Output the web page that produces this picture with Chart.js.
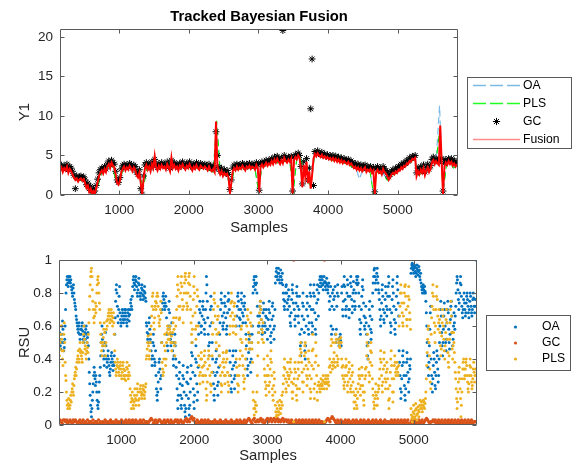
<!DOCTYPE html>
<html><head><meta charset="utf-8">
<script src="https://cdn.jsdelivr.net/npm/chart.js@4.4.1/dist/chart.umd.min.js"></script>
<style>
html,body{margin:0;padding:0;background:#fff;}
#wrap{position:relative;width:573px;height:467px;overflow:hidden;}
#c1{position:absolute;left:0;top:0;}
#c2{position:absolute;left:0;top:240px;}
</style></head><body>
<div id="wrap"><canvas id="c1" width="573" height="240"></canvas><canvas id="c2" width="573" height="227"></canvas></div>
<script>
// ---------- data ----------
const sampleMin = 150, sampleMax = 5865;
const xTicks = [1000, 2000, 3000, 4000, 5000];
const yTicksTop = [0, 5, 10, 15, 20];
const yTicksBottom = [0, 0.2, 0.4, 0.6, 0.8, 1];

// top panel (Y1), samples 150..5850 every 20
const topStart = 150, topStep = 20;
const fusionTop = [
3.2,3.5,2.9,3.4,3.1,3.6,2.8,3.3,3.0,2.6,2.2,1.9,2.1,1.7,2.0,
2.1,1.8,2.0,1.5,0.9,1.2,0.4,0.8,0.1,0.5,0.2,0.9,1.6,2.4,2.8,
3.1,2.7,3.3,2.9,3.6,3.9,3.4,4.1,3.7,3.5,2.6,1.5,1.3,1.8,2.9,
3.3,3.6,3.1,3.5,3.2,3.7,3.4,3.0,3.5,3.2,2.5,2.2,2.8,1.5,0.1,
2.0,3.4,3.8,3.2,3.6,3.0,3.9,3.4,4.9,3.5,3.1,3.7,3.3,3.8,3.4,
3.6,3.2,3.9,3.5,3.0,4.7,3.4,3.8,3.3,3.6,3.1,3.7,3.4,3.9,3.5,
3.2,3.7,3.4,3.9,3.5,3.1,3.6,3.3,3.8,3.4,3.2,3.7,3.5,3.3,3.6,
3.4,3.1,3.6,3.2,3.0,3.3,2.9,9.3,3.6,3.1,2.6,3.0,2.4,2.8,2.5,
2.7,2.2,0.3,1.5,3.0,3.4,3.1,3.6,3.2,3.5,3.3,3.7,3.4,3.1,3.6,
3.4,3.7,3.3,3.6,3.5,3.2,3.8,3.4,0.3,3.6,3.9,3.5,3.8,4.1,3.7,
4.0,3.8,4.3,3.9,4.5,4.1,4.6,4.2,3.9,4.4,4.0,4.7,4.3,4.1,4.5,
4.2,4.6,0.2,4.4,4.8,4.5,5.0,4.7,3.2,1.0,3.8,2.4,4.2,1.5,3.0,
0.8,2.5,4.6,5.2,4.9,5.3,5.0,4.8,5.1,4.7,4.9,4.6,4.8,4.5,4.7,
4.4,4.7,4.3,4.6,4.2,4.5,4.1,4.4,4.0,4.3,4.1,3.9,4.2,3.8,4.0,
3.7,3.4,3.6,3.2,3.5,3.1,3.4,3.0,3.3,3.5,2.9,3.2,3.0,3.3,2.8,
3.1,0.1,2.9,3.2,2.8,3.0,2.6,3.3,2.9,2.7,2.4,1.9,2.2,2.6,2.8,
2.6,3.0,2.8,3.2,3.1,3.5,3.3,3.7,3.6,4.0,3.9,4.3,4.2,4.6,4.5,
4.7,2.4,3.0,2.6,3.2,2.8,3.4,2.5,3.1,3.5,2.9,3.3,4.1,4.4,3.9,
4.3,4.0,3.8,8.8,4.2,0.1,3.6,4.1,3.8,4.3,3.9,4.2,3.7,4.0,3.6,
3.9];
const gcTop = [
3.5,3.8,3.3,3.7,3.5,3.9,3.2,3.6,3.4,3.0,2.5,0.8,2.4,2.1,2.3,
2.4,2.2,2.3,1.9,1.3,1.5,0.8,1.1,0.3,0.8,0.5,1.2,2.0,2.8,3.2,
3.4,3.1,3.6,3.3,3.9,4.3,3.8,4.4,4.1,3.9,3.0,1.9,1.6,2.2,3.3,
3.7,3.9,3.5,3.8,3.6,4.0,3.8,3.4,3.8,3.6,2.9,2.6,3.2,0.8,0.1,
2.4,3.8,4.1,3.6,3.9,3.4,4.2,3.8,4.5,3.9,3.5,4.0,3.7,4.1,3.8,
3.9,3.6,4.2,3.8,3.4,4.4,3.8,4.1,3.7,3.9,3.5,4.0,3.8,4.2,3.8,
3.6,4.0,3.8,4.2,3.8,3.5,3.9,3.7,4.1,3.8,3.6,4.0,3.8,3.7,3.9,
3.7,3.5,3.9,3.6,3.4,3.7,3.3,8.0,5.0,3.5,3.0,3.4,2.8,3.2,2.9,
3.1,2.6,0.7,1.9,3.4,3.8,3.5,3.9,3.6,3.8,3.7,4.0,3.8,3.5,3.9,
3.8,4.0,3.7,3.9,3.8,3.6,4.1,3.8,0.6,4.0,4.2,3.9,4.1,4.4,4.1,
4.4,4.2,4.6,4.3,4.8,4.5,4.9,4.6,4.3,4.7,20.8,5.0,4.7,4.5,4.8,
4.6,4.9,0.5,4.8,5.1,4.9,5.3,5.0,3.6,1.4,4.2,2.8,4.6,1.9,3.4,
10.9,17.2,1.2,5.5,5.2,5.6,5.3,5.1,5.4,5.0,5.2,4.9,5.1,4.8,5.0,
4.8,5.0,4.7,4.9,4.6,4.8,4.5,4.7,4.4,4.6,4.4,4.3,4.5,4.2,4.3,
4.1,3.8,4.0,3.6,3.9,3.5,3.8,3.4,3.7,3.8,3.3,3.6,3.4,3.6,3.2,
3.5,0.4,3.3,3.6,3.2,3.4,3.0,3.6,3.3,3.1,2.8,2.3,2.6,3.0,3.2,
3.0,3.4,3.2,3.6,3.5,3.9,3.7,4.1,4.0,4.4,4.3,4.7,4.6,4.9,4.8,
5.0,2.8,3.4,3.0,3.6,3.2,3.8,2.9,3.5,3.9,3.3,3.7,4.5,4.8,4.3,
4.6,4.4,4.2,4.5,4.6,0.5,4.0,4.5,4.2,4.6,4.3,4.6,4.1,4.4,4.0,
4.2];
// OA / PLS estimates in the top panel, samples 150..5850 every 50
const estStart = 150, estStep = 50;
const oaTop = [
3.3,3.4,3.1,3.2,2.4,1.9, 2.0,1.6,1.0,0.6,0.3,1.4, 3.0,3.2,3.7,3.8,2.0,1.5,
3.2,3.4,3.5,3.3,3.4,2.4, 1.2,3.6,3.5,4.6,3.5,3.4, 3.5,4.5,3.6,3.4,3.5,3.6,
3.4,3.6,3.3,3.5,3.4,3.5, 3.3,3.2,3.0,8.8,3.0,2.6, 2.6,0.8,3.3,3.3,3.4,3.5,
3.5,3.5,3.4,0.6,3.7,3.9, 4.0,4.2,4.3,4.1,4.3,4.4, 4.3,0.5,4.7,4.9,3.0,2.2,
1.0,4.8,5.1,5.0,4.8,4.7, 4.5,4.4,4.3,4.2,4.1,3.9, 3.6,3.4,2.0,3.3,3.3,3.1,
0.3,3.0,2.9,2.6,2.0,2.6, 2.7,3.0,3.4,3.7,4.0,4.4, 4.6,2.6,2.9,3.0,3.2,4.1,
4.1,11.3,0.2,4.0,4.1,3.5, 3.8];
const plsTop = [
3.2,3.3,3.0,3.1,2.3,1.8, 1.9,1.5,0.9,0.5,0.2,1.3, 2.9,3.1,3.6,3.7,1.9,1.4,
3.1,3.3,3.4,3.2,3.3,2.3, 1.1,3.5,3.4,4.5,3.4,3.3, 3.4,4.4,3.5,3.3,3.4,3.5,
3.3,3.5,3.2,3.4,3.3,3.4, 3.2,3.1,2.9,9.4,2.9,2.5, 2.5,0.7,3.2,3.2,3.3,3.4,
3.4,3.4,3.3,0.5,3.6,3.8, 3.9,4.1,4.2,4.0,4.2,4.3, 4.2,0.4,4.6,4.8,2.9,2.1,
0.9,4.7,5.0,4.9,4.7,4.6, 4.4,4.3,4.2,4.1,4.0,3.8, 3.5,3.3,3.1,3.2,3.2,3.0,
0.2,2.9,2.8,2.5,1.9,2.5, 2.6,2.9,3.3,3.6,3.9,4.3, 4.5,2.5,2.8,2.9,3.1,4.0,
4.0,8.2,0.3,3.9,4.0,3.4, 3.7];

// bottom panel (RSU) OA / PLS, samples 150..5850 every 6
const rsuStart = 150, rsuStep = 6;
const oaRsu = [
.6,.56,.52,.48,.46,.5,.55,.6,.63,.58,.5,.45,.47,.52,.6,.7,.8,.85,.88,.9,.86,.84,.88,.9,.87,
.9,.86,.88,.84,.82,.8,.78,.83,.85,.8,.76,.74,.72,.7,.66,.64,.62,.6,.58,.56,.6,.62,.55,.52,.58,
.55,.58,.6,.62,.57,.52,.5,.54,.6,.56,.52,.58,.6,.55,.5,.53,.56,.48,.4,.32,.25,.18,.12,.08,.05,
.1,.15,.2,.25,.3,.35,.32,.28,.24,.3,.26,.2,.15,.12,.1,.14,.2,.26,.3,.35,.42,.5,.55,.6,.52,
.48,.45,.4,.36,.42,.5,.56,.48,.4,.35,.38,.42,.45,.4,.36,.32,.3,.34,.38,.42,.44,.4,.36,.33,.38,
.36,.42,.55,.65,.75,.82,.85,.8,.72,.66,.62,.7,.78,.84,.68,.64,.6,.62,.66,.7,.68,.64,.62,.66,.7,
.64,.68,.7,.66,.62,.6,.64,.68,.7,.66,.63,.67,.7,.74,.76,.72,.7,.78,.84,.88,.9,.86,.82,.85,.88,
.9,.87,.84,.8,.78,.82,.86,.89,.85,.8,.78,.76,.8,.83,.85,.82,.79,.76,.78,.81,.84,.8,.77,.75,.62,
.6,.56,.52,.5,.55,.62,.65,.58,.52,.5,.45,.4,.36,.42,.5,.55,.48,.4,.36,.38,.45,.3,.22,.18,.15,
.2,.26,.32,.38,.4,.34,.28,.22,.3,.5,.7,.74,.78,.8,.76,.72,.7,.74,.78,.72,.65,.55,.48,.45,.6,
.7,.75,.68,.6,.52,.48,.55,.62,.5,.45,.4,.36,.42,.5,.55,.48,.4,.35,.3,.22,.15,.1,.18,.28,.38,
.32,.25,.18,.12,.1,.16,.24,.3,.36,.28,.2,.12,.08,.05,.1,.18,.26,.32,.35,.25,.16,.1,.06,.12,.2,
.28,.36,.44,.5,.42,.32,.22,.14,.1,.18,.3,.4,.48,.38,.25,.15,.2,.35,.55,.62,.7,.75,.68,.6,.56,
.6,.66,.72,.75,.7,.64,.58,.55,.62,.7,.8,.9,.85,.75,.65,.55,.48,.42,.5,.6,.7,.78,.72,.62,.5,
.4,.32,.25,.18,.15,.22,.3,.38,.45,.4,.32,.24,.18,.26,.35,.42,.55,.62,.7,.76,.8,.74,.66,.6,.58,
.62,.68,.74,.78,.72,.65,.58,.55,.6,.68,.75,.8,.76,.7,.45,.38,.3,.22,.2,.26,.34,.42,.45,.36,.28,
.22,.3,.38,.45,.6,.66,.72,.78,.8,.75,.7,.65,.6,.64,.7,.76,.8,.74,.68,.62,.66,.72,.78,.74,.7,
.62,.55,.48,.4,.34,.3,.36,.44,.52,.55,.46,.38,.32,.4,.5,.55,.6,.8,.84,.88,.9,.86,.82,.85,.9,
.86,.8,.72,.66,.6,.56,.6,.66,.72,.75,.7,.64,.58,.55,.6,.68,.74,.7,.62,.56,.6,.66,.7,.65,.58,
.52,.58,.64,.7,.75,.68,.6,.54,.5,.56,.64,.72,.74,.66,.58,.52,.6,.7,.86,.9,.93,.95,.9,.88,.92,
.95,.92,.88,.86,.9,.94,.9,.86,.88,.92,.85,.8,.76,.72,.7,.75,.8,.84,.85,.8,.74,.7,.76,.82,.78,
.72,.66,.62,.6,.68,.76,.82,.85,.8,.74,.01,.7,.64,.6,.66,.74,.8,.84,.78,.72,.66,.62,.7,.78,.55,
.48,.42,.5,.58,.66,.74,.8,.72,.64,.56,.45,.4,.48,.6,.7,.78,.74,.66,.58,.55,.62,.72,.8,.85,.78,
.7,.62,.56,.6,.7,.8,.85,.78,.68,.58,.55,.64,.74,.82,.85,.76,.66,.8,.84,.88,.9,.86,.84,.88,.9,
.88,.85,.82,.86,.9,.01,.87,.84,.82,.86,.89,.85,.82,.8,.84,.86,.75,.7,.78,.84,.6,.55,.72,.8,.58,
.82,.76,.7,.78,.84,.55,.5,.58,.72,.8,.85,.78,.52,.48,.5,.53,.55,.51,.48,.8,.84,.7,.66,.75,.85,
.9,.84,.76,.7,.66,.72,.8,.88,.85,.78,.7,.65,.7,.78,.86,.9,.84,.76,.68,.72,.8,.87,.82,.75,.7,
.72,.8,.86,.9,.88,.85,.9,.86,.8,.72,.64,.58,.55,.62,.7,.78,.84,.88,.82,.74,.66,.6,.58,.65,.72,
.62,.55,.48,.42,.4,.5,.6,.7,.75,.66,.58,.52,.56,.64,.72,.8,.86,.9,.94,.95,.9,.86,.82,.88,.92,
.95,.9,.86,.82,.8,.76,.7,.64,.6,.66,.74,.82,.85,.78,.7,.64,.62,.68,.76,.84,.8,.72,.66,.7,.78,
.84,.9,.86,.78,.7,.62,.56,.6,.68,.76,.84,.88,.8,.72,.64,.58,.55,.62,.7,.78,.86,.9,.82,.74,.66,
.45,.38,.3,.22,.16,.2,.28,.36,.42,.45,.38,.3,.24,.18,.15,.22,.3,.38,.44,.4,.32,.26,.2,.28,.36,
.34,.4,.92,.95,.97,.98,.96,.94,.92,.95,.97,.96,.93,.9,.92,.95,.97,.94,.91,.93,.96,.94,.9,.88,.92,
.86,.84,.82,.8,.83,.85,.82,.8,.84,.81,.8,.75,.68,.6,.5,.42,.35,.3,.38,.48,.58,.68,.72,.4,.3,
.25,.2,.28,.36,.44,.4,.32,.24,.22,.3,.38,.45,.42,.34,.26,.3,.4,.5,.6,.7,.75,.66,.56,.48,.42,
.5,.58,.66,.74,.7,.6,.5,.45,.52,.62,.7,.75,.68,.58,.5,.46,.55,.64,.72,.75,.66,.56,.48,.52,.6,
.68,.62,.58,.66,.72,.8,.86,.9,.88,.82,.76,.7,.74,.8,.86,.9,.85,.78,.72,.68,.65,.7,.76,.8,.74,
.7,.66,.68,.74,.78,.8,.76,.72,.68,.65,.7,.75,.8,.78,.72,.68,.66,.7,.76,.8,.77,.72,.68,.72,.76,
1];
const plsRsu = [
.38,.42,.46,.5,.55,.6,.52,.45,.4,.36,.45,.55,.62,.5,.38,.3,.27,.2,.15,.12,.1,.13,.16,.12,.1,
.12,.15,.18,.14,.2,.22,.25,.2,.18,.24,.28,.3,.32,.35,.3,.34,.38,.4,.42,.45,.4,.38,.46,.5,.44,
.45,.42,.4,.38,.44,.5,.55,.6,.52,.46,.48,.43,.4,.45,.5,.47,.44,.55,.62,.7,.78,.85,.9,.93,.95,
.9,.82,.75,.7,.65,.62,.66,.7,.74,.68,.72,.8,.85,.88,.9,.86,.8,.74,.7,.62,.55,.5,.45,.42,.48,
.5,.53,.58,.62,.56,.48,.42,.5,.58,.63,.6,.64,.66,.68,.7,.66,.62,.64,.68,.7,.66,.63,.6,.65,.68,
.62,.55,.45,.38,.34,.3,.32,.36,.4,.38,.35,.32,.3,.34,.36,.38,.34,.3,.28,.32,.36,.38,.34,.3,.28,
.33,.3,.27,.3,.35,.38,.34,.3,.28,.32,.36,.3,.22,.18,.14,.1,.16,.2,.15,.12,.1,.14,.18,.22,.16,
.12,.15,.18,.22,.25,.2,.15,.12,.16,.2,.22,.24,.2,.18,.16,.19,.22,.24,.21,.18,.16,.2,.23,.25,.4,
.42,.46,.5,.54,.48,.42,.4,.45,.5,.55,.6,.66,.72,.78,.8,.7,.62,.58,.65,.72,.75,.7,.74,.78,.8,
.78,.72,.66,.62,.6,.64,.7,.75,.68,.5,.38,.34,.3,.32,.4,.48,.55,.45,.36,.4,.5,.56,.6,.58,.52,
.55,.52,.58,.6,.56,.5,.54,.45,.5,.56,.62,.65,.58,.48,.42,.5,.6,.65,.7,.78,.85,.9,.82,.72,.64,
.65,.72,.8,.86,.9,.84,.76,.7,.62,.72,.8,.86,.9,.92,.88,.8,.74,.7,.72,.8,.86,.9,.92,.85,.78,
.7,.62,.55,.5,.58,.66,.76,.84,.9,.8,.68,.58,.52,.6,.72,.82,.78,.6,.42,.36,.3,.25,.32,.4,.44,
.4,.35,.3,.26,.3,.36,.42,.45,.38,.3,.22,.15,.18,.26,.34,.4,.45,.42,.36,.3,.25,.2,.24,.32,.42,
.55,.62,.7,.76,.8,.74,.66,.58,.5,.46,.55,.64,.72,.66,.56,.48,.42,.36,.3,.25,.2,.24,.32,.38,.44,
.4,.35,.3,.25,.3,.38,.44,.45,.4,.32,.26,.2,.24,.3,.55,.6,.66,.74,.8,.75,.68,.6,.56,.64,.72,
.74,.66,.6,.55,.4,.35,.3,.25,.2,.24,.3,.36,.4,.45,.52,.58,.6,.5,.42,.36,.3,.26,.22,.28,.34,
.4,.46,.52,.6,.66,.7,.64,.56,.5,.46,.54,.62,.68,.6,.5,.46,.38,.2,.15,.1,.06,.1,.14,.12,.08,
.12,.2,.3,.42,.5,.56,.62,.68,.72,.75,.7,.64,.58,.52,.56,.62,.5,.4,.34,.3,.26,.22,.18,.24,.3,
.42,.36,.3,.24,.2,.26,.34,.4,.45,.38,.3,.22,.18,.15,.24,.32,.28,.2,.12,.08,.05,.06,.1,.14,.08,
.06,.08,.12,.15,.1,.07,.1,.14,.18,.12,.2,.25,.3,.35,.4,.34,.28,.22,.2,.26,.32,.38,.3,.24,.28,
.3,.34,.38,.4,.32,.26,.2,.16,.2,.25,.02,.28,.34,.38,.32,.24,.18,.15,.22,.28,.34,.38,.3,.22,.42,
.46,.5,.44,.38,.32,.26,.2,.26,.34,.42,.48,.5,.44,.36,.3,.24,.28,.34,.4,.45,.38,.3,.22,.16,.2,
.28,.36,.45,.55,.46,.34,.22,.16,.25,.38,.5,.42,.3,.2,.15,.24,.36,.26,.24,.22,.2,.24,.28,.25,.22,
.24,.27,.3,.26,.22,.02,.25,.28,.3,.26,.22,.25,.28,.3,.26,.24,.35,.4,.36,.32,.48,.52,.38,.34,.5,
.36,.4,.44,.38,.35,.5,.55,.52,.42,.38,.36,.4,.5,.52,.48,.47,.5,.53,.5,.4,.35,.3,.36,.28,.24,
.22,.26,.3,.35,.4,.36,.3,.24,.2,.26,.32,.38,.34,.28,.22,.2,.24,.3,.36,.32,.26,.2,.14,.1,.18,
.14,.18,.22,.12,.1,.16,.2,.25,.3,.34,.28,.22,.18,.24,.3,.35,.3,.24,.2,.15,.12,.2,.28,.34,.3,
.35,.42,.5,.55,.48,.4,.32,.26,.3,.38,.45,.5,.44,.36,.28,.22,.18,.14,.1,.12,.16,.2,.25,.18,.12,
.12,.16,.2,.24,.22,.28,.34,.4,.45,.38,.3,.24,.2,.26,.34,.4,.44,.36,.28,.22,.26,.32,.38,.34,.28,
.22,.15,.1,.16,.24,.32,.4,.45,.36,.28,.2,.14,.2,.28,.36,.42,.38,.32,.3,.34,.38,.35,.32,.3,.36,
.6,.66,.72,.8,.85,.8,.74,.68,.62,.6,.66,.74,.8,.84,.85,.78,.7,.64,.6,.64,.72,.78,.84,.76,.68,
.64,.58,.1,.06,.04,.02,.05,.08,.12,.07,.04,.05,.09,.13,.1,.06,.03,.07,.11,.09,.05,.08,.12,.15,.1,
.12,.14,.1,.08,.12,.15,.11,.14,.1,.13,.16,.2,.28,.36,.44,.52,.58,.6,.5,.42,.34,.26,.22,.55,.65,
.72,.8,.85,.78,.7,.62,.56,.5,.6,.7,.78,.84,.76,.66,.58,.62,.7,.64,.56,.48,.42,.46,.54,.62,.7,
.66,.6,.52,.45,.4,.48,.56,.64,.7,.62,.52,.44,.38,.35,.42,.52,.62,.7,.75,.66,.56,.46,.4,.48,.56,
.5,.44,.38,.32,.28,.22,.16,.1,.14,.2,.26,.32,.35,.28,.22,.16,.05,.12,.2,.28,.34,.38,.4,.34,.28,
.3,.34,.38,.4,.36,.3,.26,.22,.2,.25,.3,.36,.4,.35,.3,.26,.22,.24,.28,.34,.38,.32,.26,.3,.34,
.3];
// bottom panel GC, samples 150..5850 every 15
const gcStart = 150, gcStep = 15;
const gcRsu = [
.02,.03,.02,.01,.03,.03,.02,.03,.01,.02,.03,.02,.01,.03,.02,.03,.02,.01,.02,.03,
.01,.02,.03,.01,.02,.01,.03,.01,.02,.02,.01,.03,.01,.02,.02,.01,.03,.01,.02,.01,
.02,.01,.03,.02,.01,.02,.01,.03,.02,.01,.02,.01,.03,.02,.01,.02,.01,.03,.02,.01,
.02,.03,.01,.02,.03,.01,.02,.03,.01,.02,.03,.01,.02,.01,.03,.02,.01,.03,.01,.02,
.02,.01,.02,.03,.04,.03,.01,.02,.03,.01,.02,.03,.03,.02,.01,.02,.03,.01,.02,.03,
.02,.01,.03,.02,.01,.02,.03,.02,.03,.01,.02,.03,.02,.01,.02,.03,.04,.02,.03,.02,
.04,.05,.03,.04,.02,.01,.03,.02,.01,.02,.03,.01,.02,.03,.01,.02,.03,.01,.02,.01,
.02,.01,.03,.02,.01,.02,.01,.03,.02,.01,.02,.01,.03,.02,.01,.02,.01,.03,.02,.01,
.02,.01,.03,.02,.01,.03,.02,.01,.02,.03,.01,.02,.03,.04,.03,.02,.01,.03,.04,.02,
.02,.03,.02,.03,.04,.02,.03,.01,.02,.03,.04,.02,.03,.04,.02,.03,.04,.02,.03,.04,
.02,.03,.02,.03,.04,.02,.03,.03,.02,.03,.01,.02,.03,.01,1,.02,.03,.01,.02,.03,
.01,.02,.03,.01,.02,.03,.01,.02,.03,.01,.02,.03,.01,.02,.03,.01,.02,.03,.01,.02,
.02,.01,1,.02,.03,.04,.03,.02,.04,.05,.04,.03,.02,.01,.03,.02,.01,.03,.02,.01,
.02,.03,.01,.02,.03,.01,.02,.01,.03,.02,.01,.03,.02,.01,.02,.03,.01,.02,.03,.01,
.02,.01,.03,.02,.01,.02,.03,.01,.02,.03,.01,.02,.01,.03,.02,.01,.02,.03,.01,.02,
.02,.01,.02,.03,.01,.02,.03,.01,.02,.03,.01,.02,.03,.01,.02,.03,.01,.02,.03,.01,
.01,.02,.03,.01,.02,.03,.01,.02,.03,.01,.02,.03,.01,.02,.03,.04,.03,.02,.01,.02,
.02,.03,.02,.03,.01,.02,.03,.01,.02,.03,.01,.02,.03,.01,.02,.03,.01,.02,.03,.01,
.02,.03,.01,.02,.03,.01,.02,.03,.01,.02,.03,.01,.02,.03,.01,.02,.03,.01,.02,.02,
.02];

// ---------- helpers ----------
const FONT = '"Liberation Sans", Arial, Helvetica, sans-serif';
const TEXT_COLOR = '#262626';
const BOX_COLOR = '#5a5a5a';
function toXY(vals, start, step) { return vals.map((v, i) => ({ x: start + i * step, y: v })); }

function makeAxesBox(tick, color) {
  return {
    id: 'axesBox',
    afterDatasetsDraw(chart) {
      const { ctx, chartArea: a, scales: { x, y } } = chart;
      ctx.save();
      ctx.strokeStyle = color; ctx.lineWidth = 1;
      const L = Math.round(a.left) + 0.5, R = Math.round(a.right) - 0.5;
      const T = Math.round(a.top) + 0.5, B = Math.round(a.bottom) - 0.5;
      ctx.beginPath();
      ctx.rect(L, T, R - L, B - T);
      x.ticks.forEach(t => {
        const px = Math.round(x.getPixelForValue(t.value)) + 0.5;
        ctx.moveTo(px, B); ctx.lineTo(px, B - tick);
        ctx.moveTo(px, T); ctx.lineTo(px, T + tick);
      });
      y.ticks.forEach(t => {
        const py = Math.round(y.getPixelForValue(t.value)) + 0.5;
        ctx.moveTo(L, py); ctx.lineTo(L + tick, py);
        ctx.moveTo(R, py); ctx.lineTo(R - tick, py);
      });
      ctx.stroke();
      ctx.restore();
    }
  };
}

function drawStar(ctx, cx, cy, r) {
  ctx.beginPath();
  ctx.moveTo(cx - r, cy); ctx.lineTo(cx + r, cy);
  ctx.moveTo(cx, cy - r); ctx.lineTo(cx, cy + r);
  const d = r * Math.SQRT1_2;
  ctx.moveTo(cx - d, cy - d); ctx.lineTo(cx + d, cy + d);
  ctx.moveTo(cx - d, cy + d); ctx.lineTo(cx + d, cy - d);
  ctx.stroke();
}

function makeLegend(L) {
  return {
    id: 'boxLegend',
    afterDraw(chart) {
      const ctx = chart.ctx;
      ctx.save();
      ctx.fillStyle = '#fff';
      ctx.fillRect(L.x, L.y, L.w, L.h);
      ctx.strokeStyle = BOX_COLOR; ctx.lineWidth = 1;
      ctx.strokeRect(L.x + 0.5, L.y + 0.5, L.w, L.h);
      ctx.font = L.font; ctx.textBaseline = 'middle'; ctx.textAlign = 'left';
      L.items.forEach((it, i) => {
        const ds = chart.data.datasets[it.ds];
        const cy = L.y0 + i * L.dy;
        const cx = (L.sx0 + L.sx1) / 2;
        if (it.kind === 'line') {
          ctx.strokeStyle = it.color; ctx.lineWidth = it.width;
          ctx.setLineDash(it.dash || []);
          ctx.beginPath(); ctx.moveTo(L.sx0, cy); ctx.lineTo(L.sx1, cy); ctx.stroke();
          ctx.setLineDash([]);
        } else if (it.kind === 'star') {
          ctx.strokeStyle = it.color; ctx.lineWidth = 1;
          drawStar(ctx, cx, cy, 3.6);
        } else {
          ctx.fillStyle = it.color;
          ctx.beginPath(); ctx.arc(cx, cy, 1.6, 0, Math.PI * 2); ctx.fill();
        }
        ctx.fillStyle = '#000';
        ctx.fillText(ds.label, L.tx, cy);
      });
      ctx.restore();
    }
  };
}

function tickFont(size) { return { family: FONT, size: size }; }
function xScale(h, titlePad) {
  return { type: 'linear', min: sampleMin, max: sampleMax,
    grid: { display: false, drawTicks: false }, border: { display: false },
    afterBuildTicks: s => { s.ticks = xTicks.map(v => ({ value: v })); },
    afterFit: s => { s.height = h; },
    ticks: { color: TEXT_COLOR, font: tickFont(13.5), padding: 7, maxRotation: 0, callback: v => String(v) },
    title: { display: true, text: 'Samples', color: TEXT_COLOR, font: { family: FONT, size: 14.8 }, padding: { top: 0, bottom: titlePad } } };
}
function yScale(min, max, ticks, w, label) {
  return { type: 'linear', min: min, max: max,
    grid: { display: false, drawTicks: false }, border: { display: false },
    afterBuildTicks: s => { s.ticks = ticks.map(v => ({ value: v })); },
    afterFit: s => { s.width = w; },
    ticks: { color: TEXT_COLOR, font: tickFont(13.5), padding: 7, callback: v => String(v) },
    title: { display: true, text: label, color: TEXT_COLOR, font: { family: FONT, size: 14.8 }, padding: { top: 16, bottom: 0 } } };
}

// colours
const OA_LINE = '#7dbbe6', PLS_LINE = '#00ee00', GC_MARK = '#000000', FUSION_LINE = '#ff0000';
const OA_DOT = '#0072BD', GC_DOT = '#D95319', PLS_DOT = '#EDB120';

// ---------- top chart ----------
new Chart(document.getElementById('c1'), {
  type: 'scatter',
  data: { datasets: [
    { label: 'OA', data: toXY(oaTop, estStart, estStep), showLine: true, borderColor: OA_LINE, borderWidth: 1.2, borderDash: [7, 4], pointRadius: 0, order: 3 },
    { label: 'PLS', data: toXY(plsTop, estStart, estStep), showLine: true, borderColor: PLS_LINE, borderWidth: 1.1, borderDash: [7, 4], pointRadius: 0, order: 2 },
    { label: 'GC', data: toXY(gcTop, topStart, topStep), showLine: false, pointStyle: 'star', pointRadius: 3.4, pointBorderColor: GC_MARK, pointBackgroundColor: GC_MARK, pointBorderWidth: 1, order: 1 },
    { label: 'Fusion', data: toXY(fusionTop, topStart, topStep), showLine: true, borderColor: FUSION_LINE, borderWidth: 2, pointRadius: 0, order: 0 }
  ] },
  options: {
    responsive: false, animation: false, devicePixelRatio: 1,
    layout: { padding: { left: 0, right: 115, top: 0, bottom: 0 } },
    plugins: {
      legend: { display: false }, tooltip: { enabled: false },
      title: { display: true, text: 'Tracked Bayesian Fusion', fullSize: false, color: '#000',
               font: { family: FONT, size: 14.8, weight: 'bold' }, padding: { top: 8, bottom: 3.2 } }
    },
    scales: { x: xScale(45, 3), y: yScale(0, 21, yTicksTop, 60, 'Y1') }
  },
  plugins: [makeAxesBox(4, BOX_COLOR), makeLegend({
    x: 467, y: 77, w: 104, h: 71, font: '12.2px ' + FONT, y0: 85.5, dy: 18, sx0: 473, sx1: 520, tx: 523,
    items: [ { ds: 0, kind: 'line', color: OA_LINE, width: 1.4, dash: [13, 4] },
             { ds: 1, kind: 'line', color: '#22ff22', width: 1.4, dash: [13, 4] },
             { ds: 2, kind: 'star', color: GC_MARK },
             { ds: 3, kind: 'line', color: '#ff8a8a', width: 1.4 } ] })]
});

// ---------- bottom chart ----------
new Chart(document.getElementById('c2'), {
  type: 'scatter',
  data: { datasets: [
    { label: 'OA', data: toXY(oaRsu, rsuStart, rsuStep), pointRadius: 1.5, pointBorderWidth: 0, pointBackgroundColor: OA_DOT, backgroundColor: OA_DOT, order: 2 },
    { label: 'GC', data: toXY(gcRsu, gcStart, gcStep), pointRadius: 1.7, pointBorderWidth: 0, pointBackgroundColor: GC_DOT, backgroundColor: GC_DOT, order: 1 },
    { label: 'PLS', data: toXY(plsRsu, rsuStart, rsuStep), pointRadius: 1.5, pointBorderWidth: 0, pointBackgroundColor: PLS_DOT, backgroundColor: PLS_DOT, order: 0 }
  ] },
  options: {
    responsive: false, animation: false, devicePixelRatio: 1,
    layout: { padding: { left: 0, right: 96, top: 20, bottom: 0 } },
    plugins: { legend: { display: false }, tooltip: { enabled: false } },
    scales: { x: xScale(42, 2), y: yScale(0, 1, yTicksBottom, 59, 'RSU') }
  },
  plugins: [makeAxesBox(4, BOX_COLOR), makeLegend({
    x: 486, y: 75, w: 84, h: 55, font: '12.2px ' + FONT, y0: 87, dy: 16, sx0: 505, sx1: 526, tx: 542,
    items: [ { ds: 0, kind: 'dot', color: OA_DOT }, { ds: 1, kind: 'dot', color: GC_DOT }, { ds: 2, kind: 'dot', color: PLS_DOT } ] })]
});
</script></body></html>
